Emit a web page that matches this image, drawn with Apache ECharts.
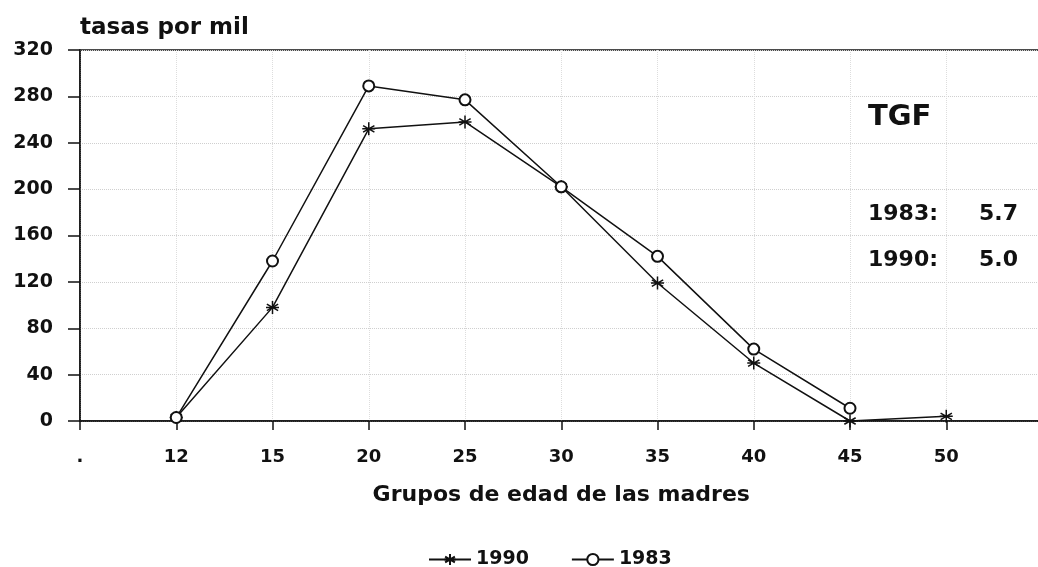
<!DOCTYPE html>
<html>
<head>
<meta charset="utf-8">
<script src="https://cdn.jsdelivr.net/npm/echarts@6/dist/echarts.min.js"></script>
<style>
  html, body { margin: 0; padding: 0; background: #fff; }
  #main { width: 1038px; height: 567px; }
</style>
</head>
<body>
<div id="main"></div>
<script>
// age groups of the mothers (x axis), last slot is empty padding
const grupos = ['.', '12', '15', '20', '25', '30', '35', '40', '45', '50', '']
// rates per thousand
const tasas1990 = ['-', 3, 98, 252, 258, 202, 119, 50, 0, 4, '-']
const tasas1983 = ['-', 3, 138, 289, 277, 202, 142, 62, 11, '-', '-']
const yTicks = [0, 40, 80, 120, 160, 200, 240, 280, 320]

const font = '"DejaVu Sans", "Liberation Sans", sans-serif'
const ink = '#111'
const asterisco = 'path://M0,-10L0,10M-8.7,-5L8.7,5M-8.7,5L8.7,-5M-10,0L10,0'

const myChart = echarts.init(document.getElementById('main'))

const option = {
  backgroundColor: '#fff',
  animation: false,
  grid: {
    left: 80,
    right: -4.5,
    top: 50,
    bottom: 146,
    outerBoundsMode: 'none',
    show: true,
    borderColor: ink,
    borderWidth: 1.5
  },
  title: {
    text: 'tasas por mil',
    left: 75,
    top: 12,
    textStyle: { fontFamily: font, fontSize: 23, fontWeight: 'bold', color: ink }
  },
  legend: {
    top: 545,
    left: 423,
    itemWidth: 42,
    itemHeight: 14,
    itemGap: 42,
    textStyle: { fontFamily: font, fontSize: 19, fontWeight: 'bold', color: ink },
    data: ['1990', '1983']
  },
  xAxis: {
    type: 'category',
    data: grupos,
    boundaryGap: false,
    name: 'Grupos de edad de las madres',
    nameLocation: 'middle',
    nameGap: 63,
    nameTextStyle: { fontFamily: font, fontSize: 22, fontWeight: 'bold', color: ink },
    axisLine: { lineStyle: { color: ink, width: 1.5 } },
    axisTick: { show: true, length: 9, lineStyle: { color: ink, width: 1.5 } },
    axisLabel: {
      interval: 0,
      margin: 27,
      fontFamily: font, fontSize: 18, fontWeight: 'bold', color: ink
    },
    splitLine: { show: true, lineStyle: { color: '#ddd', type: 'dotted', width: 1 } }
  },
  yAxis: {
    type: 'value',
    min: yTicks[0],
    max: yTicks[yTicks.length - 1],
    interval: 40,
    axisLine: { show: true, lineStyle: { color: ink, width: 1.5 } },
    axisTick: { show: true, length: 12, lineStyle: { color: ink, width: 1.5 } },
    axisLabel: {
      margin: 27,
      fontFamily: font, fontSize: 19, fontWeight: 'bold', color: ink
    },
    splitLine: { show: true, lineStyle: { color: '#cfcfcf', type: 'dotted', width: 1 } }
  },
  graphic: [
    { type: 'text', left: 868, top: 103, style: { text: 'TGF', fontFamily: font, fontSize: 29, fontWeight: 'bold', fill: ink } },
    { type: 'text', left: 868, top: 203, style: { text: '1983:', fontFamily: font, fontSize: 22, fontWeight: 'bold', fill: ink } },
    { type: 'text', left: 979, top: 203, style: { text: '5.7', fontFamily: font, fontSize: 22, fontWeight: 'bold', fill: ink } },
    { type: 'text', left: 868, top: 249, style: { text: '1990:', fontFamily: font, fontSize: 22, fontWeight: 'bold', fill: ink } },
    { type: 'text', left: 979, top: 249, style: { text: '5.0', fontFamily: font, fontSize: 22, fontWeight: 'bold', fill: ink } }
  ],
  series: [
    {
      name: '1990',
      type: 'line',
      data: tasas1990,
      symbol: asterisco,
      symbolSize: 13,
      showAllSymbol: true,
      lineStyle: { color: ink, width: 1.5 },
      itemStyle: { color: ink, borderColor: ink, borderWidth: 1.5 }
    },
    {
      name: '1983',
      type: 'line',
      data: tasas1983,
      symbol: 'emptyCircle',
      symbolSize: 11,
      showAllSymbol: true,
      lineStyle: { color: ink, width: 1.5 },
      itemStyle: { color: ink, borderColor: ink, borderWidth: 1.5 }
    }
  ]
}

option && myChart.setOption(option)
</script>
</body>
</html>
